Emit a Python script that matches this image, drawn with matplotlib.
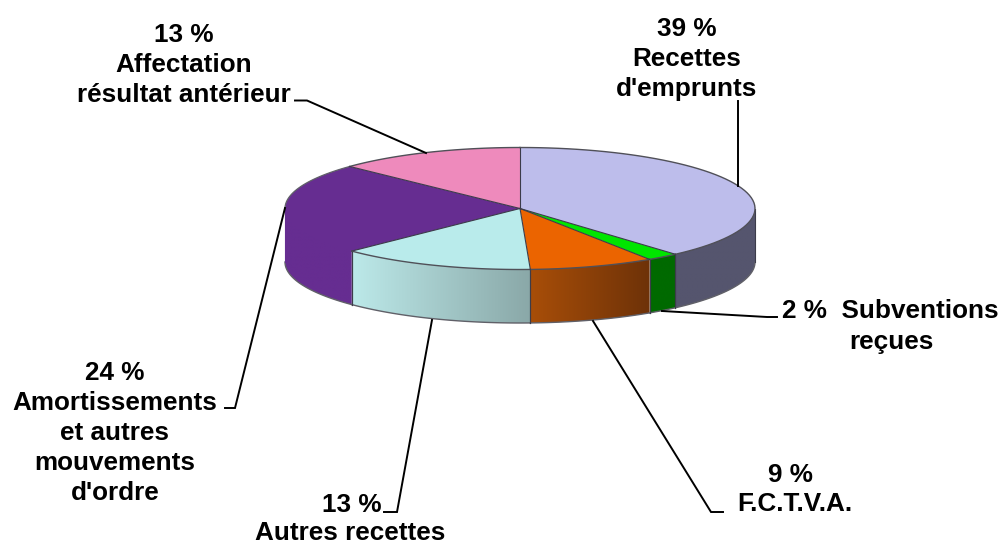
import numpy as np
from matplotlib import pyplot as plt
from matplotlib.colors import to_rgb
from matplotlib.patches import Polygon

# share of each slice, clockwise from the top of the pie
names = ['Recettes', 'Subventions', 'FCTVA', 'Autres', 'Amortissements', 'Affectation']
shares = [38.5, 2.2, 8.6, 13.4, 24.4, 12.9]

top_colors = ['#bdbdeb', '#00e600', '#eb6400', '#b9ebeb', '#662d91', '#ee8abc']
side_left = ['#55556e', '#006a00', '#a84e08', '#bce9e9', '#662d91', '#ee8abc']
side_right = ['#55556e', '#006a00', '#6e3208', '#8aa8a8', '#662d91', '#ee8abc']

labels = ['39 %\nRecettes\nd\'emprunts', '2 %  Subventions', 'reçues', '9 %', 'F.C.T.V.A.',
          '13 %', 'Autres recettes', '24 %\nAmortissements\net autres\nmouvements\nd\'ordre',
          '13 %\nAffectation\nrésultat antérieur']
label_pos = [(687, 59), (890, 311), (891, 342), (791, 475), (795, 504), (351.5, 505), (350.5, 533),
             (115, 433), (184, 65)]
leaders = [[(738, 101), (738, 186)],
           [(777, 317), (767, 317), (662, 311)],
           [(723, 512), (711, 512), (593, 321)],
           [(384, 512), (397, 512), (432, 320)],
           [(225, 408), (235, 408), (285, 208)],
           [(295, 100.5), (307, 100.5), (426, 153)]]

cx, cy = 520, 208.5
rx, ry = 235, 61
depth = 53.5
edge = '#3c3c4a'


def rim(a, b, n=60):
    t = np.radians(np.linspace(a, b, n))
    return cx + rx * np.sin(t), cy - ry * np.cos(t)


fig = plt.figure(figsize=(10.04, 5.43), dpi=100)
ax = fig.add_axes([0, 0, 1, 1])
ax.axis('off')

bounds = np.concatenate([[0], np.cumsum(shares)]) * 3.6

# side walls, only the front half of the rim shows
for i in range(len(shares)):
    a, b = max(bounds[i], 90), min(bounds[i + 1], 270)
    if a >= b:
        continue
    xs, ys = rim(a, b)
    # upper edge goes a bit under the top face so no seam shows
    outline = np.c_[np.r_[xs, xs[::-1]], np.r_[ys - 2, ys[::-1] + depth]]
    # colour runs left to right across the wall
    c0, c1 = np.array(to_rgb(side_left[i])), np.array(to_rgb(side_right[i]))
    ramp = np.linspace(0, 1, 128)[None, :, None]
    grad = c0 + (c1 - c0) * ramp
    im = ax.imshow(grad, extent=(xs.min(), xs.max(), ys.max() + depth, ys.min() - 2),
                   aspect='auto', zorder=2, interpolation='bilinear')
    im.set_clip_path(Polygon(outline, transform=ax.transData))
    wall = edge if names[i] != 'Amortissements' else top_colors[i]
    ax.plot(xs, ys + depth, color='#606068', lw=1.0, zorder=3)
    ax.plot([xs[0], xs[0]], [ys[0], ys[0] + depth], color=edge, lw=0.8, zorder=3)
    ax.plot([xs[-1], xs[-1]], [ys[-1], ys[-1] + depth], color=wall, lw=0.8, zorder=3)
ax.set_xlim(0, 1004)
ax.set_ylim(543, 0)

# top face
for i in range(len(shares)):
    xs, ys = rim(bounds[i], bounds[i + 1])
    ax.fill(np.r_[cx, xs], np.r_[cy, ys], color=top_colors[i], lw=0, zorder=4)
    if names[i] == 'Amortissements':
        # no visible line between this top and its wall on the front
        ax.plot(xs[ys <= cy], ys[ys <= cy], color='#606068', lw=0.9, zorder=5)
    else:
        ax.plot(xs, ys, color='#505058', lw=1.0, zorder=5)
    xr, yr = rim(bounds[i], bounds[i], 1)
    ax.plot([cx, xr[0]], [cy, yr[0]], color=edge, lw=0.8, zorder=5)

for pts in leaders:
    px, py = zip(*pts)
    ax.plot(px, py, color='black', lw=1.4, zorder=6, solid_joinstyle='miter')

for text, (x, y) in zip(labels, label_pos):
    ax.text(x, y, text, ha='center', va='center', fontsize=18.8, fontweight='bold',
            family='Liberation Sans', linespacing=1.32, zorder=7)

plt.savefig('out.png', dpi=100)
